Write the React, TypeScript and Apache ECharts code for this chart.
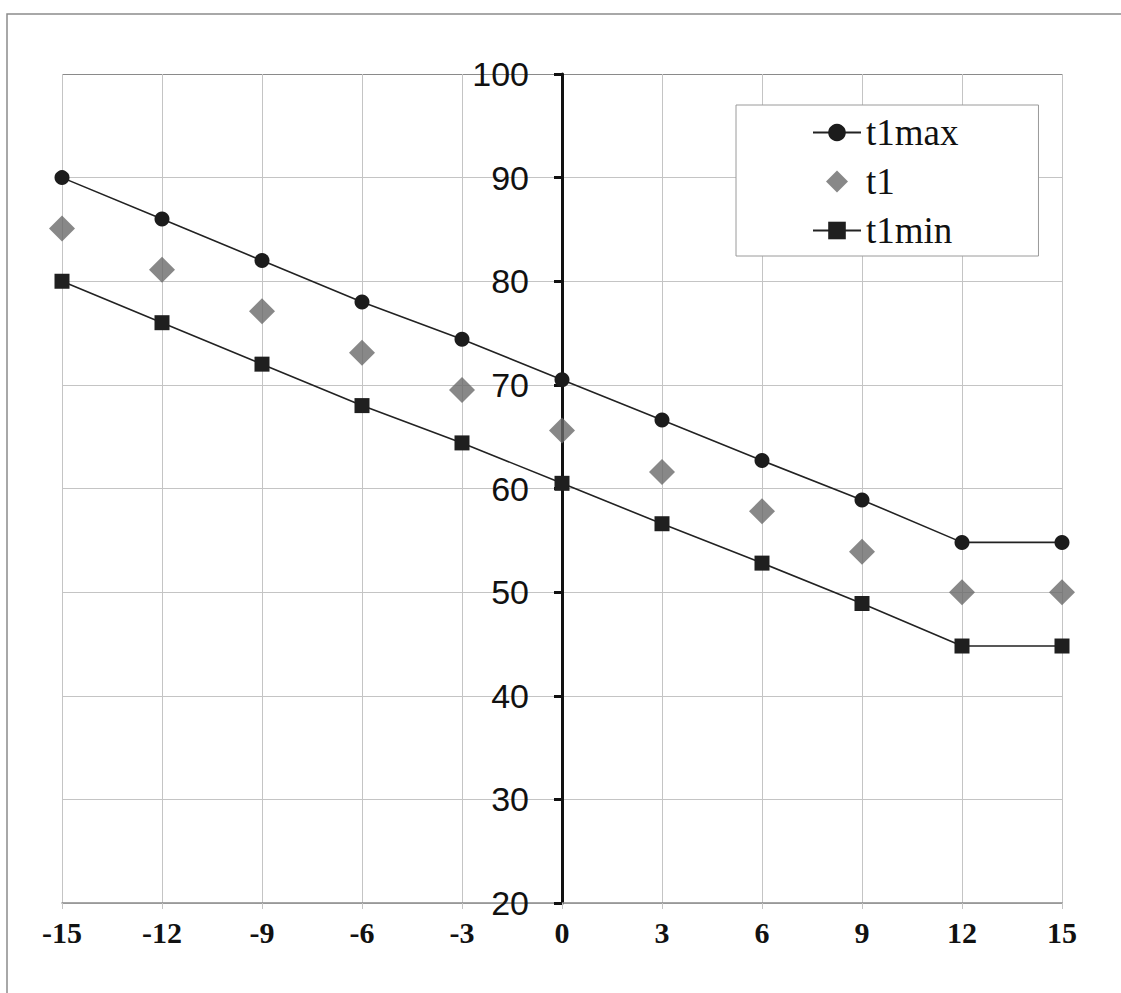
import React, { useEffect, useRef } from "react";
import * as echarts from "echarts";

const xValues = [-15, -12, -9, -6, -3, 0, 3, 6, 9, 12, 15];
const t1max = [90, 86, 82, 78, 74.4, 70.5, 66.6, 62.7, 58.9, 54.8, 54.8];
const t1 = [85.1, 81.1, 77.1, 73.1, 69.5, 65.6, 61.6, 57.8, 53.9, 50, 50];
const t1min = [80, 76, 72, 68, 64.4, 60.5, 56.6, 52.8, 48.9, 44.8, 44.8];
const seriesNames = ["t1max", "t1", "t1min"];

const pairs = (ys: number[]) => xValues.map((x, i) => [x, ys[i]]);

export default function App() {
  const ref = useRef<HTMLDivElement>(null);
  useEffect(() => {
    if (!ref.current) return;
    const chart = echarts.init(ref.current, null, { renderer: "svg" });
    const gridColors = ["#c4c4c4", "#c4c4c4", "#c4c4c4", "#c4c4c4", "#c4c4c4", "#c4c4c4", "#c4c4c4", "#c4c4c4", "#8a8a8a"];
    const gridLeft = 62;
    const gridRight = 1062;
    const zeroX = gridLeft + (gridRight - gridLeft) / 2;
    chart.setOption({
      animation: false,
      backgroundColor: "#ffffff",
      graphic: [
        {
          type: "rect",
          shape: { x: 7, y: 14, width: 1300, height: 1200 },
          style: { fill: "none", stroke: "#8c8c8c", lineWidth: 1.5 },
          silent: true,
          z: -10,
        },
      ],
      grid: {
        left: gridLeft,
        right: 1121 - gridRight,
        top: 74,
        bottom: 993 - 903,
        containLabel: false,
        outerBoundsMode: "none",
      },
      legend: {
        orient: "vertical",
        left: 736,
        top: 105,
        padding: [9, 80, 7, 76],
        itemWidth: 48,
        itemHeight: 22,
        itemGap: 12,
        symbolKeepAspect: true,
        borderColor: "#9a9a9a",
        borderWidth: 1,
        backgroundColor: "#ffffff",
        textStyle: { fontFamily: "Liberation Serif", fontSize: 37, color: "#111" },
        data: [
          { name: seriesNames[0] },
          { name: seriesNames[1], icon: "path://M10,0L20,10L10,20L0,10Z" },
          { name: seriesNames[2] },
        ],
      },
      xAxis: {
        type: "value",
        min: -15,
        max: 15,
        interval: 3,
        axisLine: { onZero: false, lineStyle: { color: "#8a8a8a", width: 1.5 } },
        axisTick: { show: true, length: 6, lineStyle: { color: "#c4c4c4", width: 1 } },
        axisLabel: {
          fontFamily: "Liberation Serif",
          fontWeight: "bold",
          fontSize: 30,
          color: "#111",
          margin: 14,
        },
        splitLine: { show: true, lineStyle: { color: "#c4c4c4", width: 1 } },
      },
      yAxis: {
        type: "value",
        min: 20,
        max: 100,
        interval: 10,
        position: "left",
        offset: -(zeroX - gridLeft),
        axisLine: { show: true, onZero: false, lineStyle: { color: "#111", width: 3 } },
        axisTick: { show: true, inside: false, length: 8, lineStyle: { color: "#111", width: 3 } },
        axisLabel: {
          fontFamily: "Liberation Sans",
          fontSize: 34,
          color: "#111",
          margin: 33,
        },
        splitLine: { show: true, lineStyle: { color: gridColors, width: 1 } },
      },
      series: [
        {
          name: "t1max",
          type: "line",
          data: pairs(t1max),
          symbol: "circle",
          symbolSize: 15,
          itemStyle: { color: "#1c1c1c" },
          lineStyle: { color: "#222", width: 1.6 },
          z: 5,
        },
        {
          name: "t1",
          type: "scatter",
          data: pairs(t1),
          symbol: "diamond",
          symbolSize: 26,
          itemStyle: { color: "#6a6a6a" },
          z: 5,
        },
        {
          name: "t1min",
          type: "line",
          data: pairs(t1min),
          symbol: "rect",
          symbolSize: 15,
          itemStyle: { color: "#1f1f1f" },
          lineStyle: { color: "#222", width: 1.6 },
          z: 5,
        },
      ],
    });
    return () => chart.dispose();
  }, []);
  return (
    <div
      ref={ref}
      style={{ position: "fixed", left: 0, top: 0, width: 1121, height: 993 }}
    />
  );
}
